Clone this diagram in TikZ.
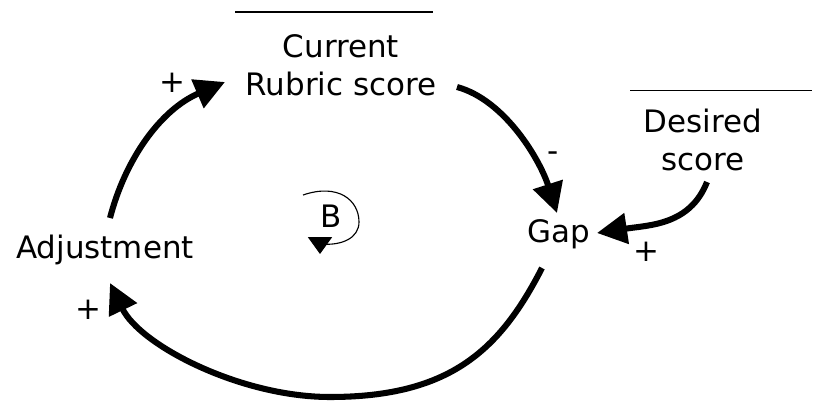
\documentclass[tikz,border=0pt]{standalone}
\usepackage{fontspec}
\setmainfont{DejaVu Sans}
\usetikzlibrary{arrows.meta,calc}

\begin{document}
\begin{tikzpicture}[
    x=0.025cm, y=-0.025cm,
    font=\fontsize{22pt}{27.3pt}\selectfont,
    >={Triangle[length=0.75cm,width=0.75cm]},
    varLabel/.style={
        align=center,
        inner sep=0pt
    },
    polarity/.style={
        inner sep=0pt
    },
    linkArrow/.style={
        line width=4.3pt,
        ->
    },
    levelBar/.style={
        line width=1.2pt
    },
    loopArrow/.style={
        line width=0.8pt,
        -{Triangle[length=0.42cm,width=0.6cm]}
    }
]
\useasboundingbox (0,0) rectangle (818,402);

% ==================== VARIABLES ====================
\node[varLabel] (current) at (341,65) {Current\\Rubric score};
\node[varLabel] (desired) at (703,140) {Desired\\score};
\node[varLabel, anchor=base] (gap) at (559,242) {Gap};
\node[varLabel, anchor=base] (adjust) at (105,258) {Adjustment};

% Level bars over the scores
\draw[levelBar] ($(current.north)+(-106,-22)$) -- ($(current.north)+(92,-22)$);
\draw[levelBar] ($(desired.north)+(-73,-18)$) -- ($(desired.north)+(109,-18)$);

% ==================== LINKS ====================
\draw[linkArrow] ($(adjust.base)+(5,-40)$) .. controls +(15,-58) and +(-65,28) .. ($(current.center)+(-116,17)$);
\draw[linkArrow] ($(current.center)+(116,22)$) .. controls +(48,13) and +(-17,-53) .. ($(gap.base)+(-2,-29)$);
\draw[linkArrow] ($(desired.center)+(4,42)$) .. controls +(-17,43) and +(53,-8) .. ($(gap.base)+(38,-9)$);
\draw[linkArrow] ($(gap.base)+(-17,26)$) .. controls +(-42,82) and +(120,0) .. ($(gap.base)!0.5!(adjust.base)+(-2,147)$)
    .. controls +(-90,0) and +(30,62) .. ($(adjust.base)+(5,25)$);

% Polarities
\node[polarity] (polAdjCur) at (172,83) {+};
\node[polarity, anchor=base] (polCurGap) at (553,161) {-};
\node[polarity] (polDesGap) at (646,252) {+};
\node[polarity] (polGapAdj) at (88,310) {+};

% ==================== LOOP ====================
\node[polarity, anchor=base] (loopB) at (331,227) {B};
\draw[loopArrow] ($(loopB.base)+(-28,-32)$) .. controls +(35,-12) and +(0,-22) .. ($(loopB.base)+(28,-5)$)
    .. controls +(0,16) and +(22,2) .. ($(loopB.base)+(-11,17)$) -- ($(loopB.base)+(-11,27)$);

\end{tikzpicture}
\end{document}
